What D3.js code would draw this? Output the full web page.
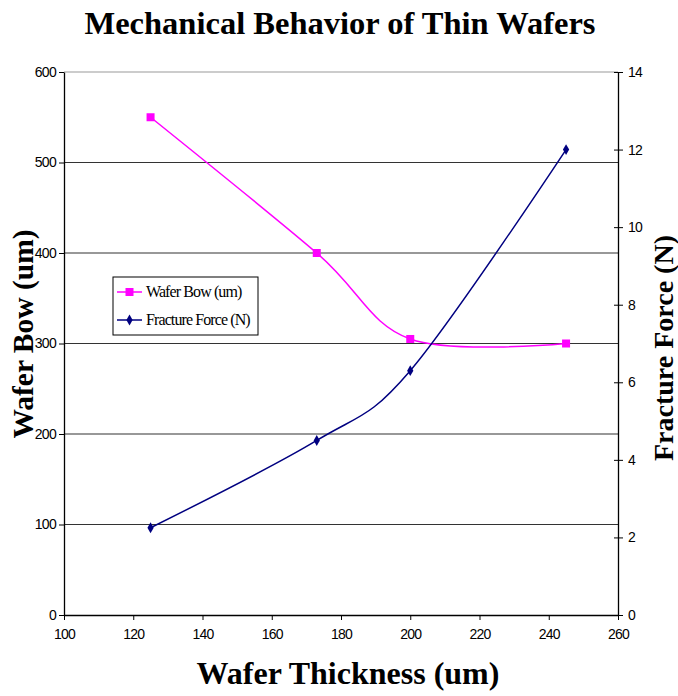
<!DOCTYPE html>
<html>
<head>
	<title></title>
	<style>
		body { margin: 0; background: #fff; }
	</style>
</head>
<body>
	<svg id="container" width="678" height="696"></svg>
</body>
<script type="text/javascript" src="https://cdn.jsdelivr.net/npm/d3@7"></script>
<script>
	// values
	let thickness = [125, 173, 200, 245]
	let waferBow = [550, 400, 305, 300]
	let fractureForce = [2.25, 4.5, 6.3, 12.0]
	let xTicks = [100, 120, 140, 160, 180, 200, 220, 240, 260]
	let leftTicks = [0, 100, 200, 300, 400, 500, 600]
	let rightTicks = [0, 2, 4, 6, 8, 10, 12, 14]

	let svg = d3.select("#container")
	let plotLeft = 64, plotRight = 618, plotTop = 72, plotBottom = 615

	let x = d3.scaleLinear().domain([100, 260]).range([plotLeft, plotRight])
	let yL = d3.scaleLinear().domain([0, 600]).range([plotBottom, plotTop])
	let yR = d3.scaleLinear().domain([0, 14]).range([plotBottom, plotTop])

	// gridlines
	svg.selectAll(".grid")
		.data(leftTicks.filter(d => d > 0))
		.enter().append("line")
		.attr("x1", plotLeft).attr("x2", plotRight)
		.attr("y1", d => yL(d)).attr("y2", d => yL(d))
		.attr("stroke", d => d == 600 ? "#999" : "#333")
		.attr("stroke-width", 1.2)

	// axes
	let gx = svg.append("g").attr("transform", `translate(0,${plotBottom})`)
		.call(d3.axisBottom(x).tickValues(xTicks).tickSize(5).tickPadding(9).tickSizeOuter(0))
	let gl = svg.append("g").attr("transform", `translate(${plotLeft},0)`)
		.call(d3.axisLeft(yL).tickValues(leftTicks).tickSize(5).tickPadding(3).tickSizeOuter(0))
	let gr = svg.append("g").attr("transform", `translate(${plotRight},0)`)
		.call(d3.axisRight(yR).tickValues(rightTicks).tickSize(5).tickPadding(5).tickSizeOuter(0))
	gr.selectAll(".tick line").attr("x1", -4)

	for (let g of [gx, gl, gr]) {
		g.select(".domain").attr("stroke", "#000").attr("stroke-width", 1.3)
		g.selectAll(".tick line").attr("stroke", "#000")
		g.selectAll(".tick text")
			.attr("fill", "#000")
			.style("font-family", "'Liberation Sans', Arial, sans-serif")
			.style("font-size", "14px")
			.style("letter-spacing", "-0.7px")
	}

	// lines
	let bowPts = thickness.map((t, i) => [x(t), yL(waferBow[i])])
	let forcePts = thickness.map((t, i) => [x(t), yR(fractureForce[i])])
	let line = d3.line().curve(d3.curveCardinal.tension(0))

	svg.append("path").attr("d", line(bowPts))
		.attr("fill", "none").attr("stroke", "#ff00ff").attr("stroke-width", 1.5)
	svg.append("path").attr("d", line(forcePts))
		.attr("fill", "none").attr("stroke", "#000080").attr("stroke-width", 1.5)

	svg.selectAll(".sq")
		.data(bowPts)
		.enter().append("rect")
		.attr("x", d => d[0] - 4).attr("y", d => d[1] - 4)
		.attr("width", 8).attr("height", 8)
		.attr("fill", "#ff00ff")
	svg.selectAll(".dia")
		.data(forcePts)
		.enter().append("path")
		.attr("d", d3.symbol().type(d3.symbolDiamond).size(34))
		.attr("transform", d => `translate(${d[0]},${d[1]})`)
		.attr("fill", "#000080")

	// legend
	let legend = svg.append("g").attr("transform", "translate(113,277)")
	legend.append("rect").attr("width", 145).attr("height", 58)
		.attr("fill", "#fff").attr("stroke", "#000").attr("stroke-width", 1)
	let entries = [
		{ name: "Wafer Bow (um)", color: "#ff00ff", shape: "square" },
		{ name: "Fracture Force (N)", color: "#000080", shape: "diamond" }
	]
	entries.forEach((e, i) => {
		let cy = 15 + i * 28
		legend.append("line").attr("x1", 4).attr("x2", 29).attr("y1", cy).attr("y2", cy)
			.attr("stroke", e.color).attr("stroke-width", 1.5)
		if (e.shape == "square") {
			legend.append("rect").attr("x", 12.5).attr("y", cy - 4)
				.attr("width", 8).attr("height", 8).attr("fill", e.color)
		} else {
			legend.append("path").attr("d", d3.symbol().type(d3.symbolDiamond).size(34))
				.attr("transform", `translate(16.5,${cy})`).attr("fill", e.color)
		}
		legend.append("text").attr("x", 33).attr("y", cy + 5)
			.text(e.name)
			.style("font-family", "'Liberation Serif', 'Times New Roman', serif")
			.style("font-size", "16px")
			.style("letter-spacing", "-0.9px")
	})

	// titles
	let serif = "'Liberation Serif', 'Times New Roman', serif"
	svg.append("text").attr("x", 340).attr("y", 34)
		.attr("text-anchor", "middle")
		.style("font-family", serif).style("font-weight", "bold").style("font-size", "32.5px")
		.text("Mechanical Behavior of Thin Wafers")
	svg.append("text").attr("x", 348).attr("y", 684)
		.attr("text-anchor", "middle")
		.style("font-family", serif).style("font-weight", "bold").style("font-size", "32px")
		.text("Wafer Thickness (um)")
	svg.append("text")
		.attr("transform", "translate(33,334) rotate(-90)")
		.attr("text-anchor", "middle")
		.style("font-family", serif).style("font-weight", "bold").style("font-size", "29.5px")
		.text("Wafer Bow (um)")
	svg.append("text")
		.attr("transform", "translate(673,348) rotate(-90)")
		.attr("text-anchor", "middle")
		.style("font-family", serif).style("font-weight", "bold").style("font-size", "28px")
		.text("Fracture Force (N)")
</script>
</html>
